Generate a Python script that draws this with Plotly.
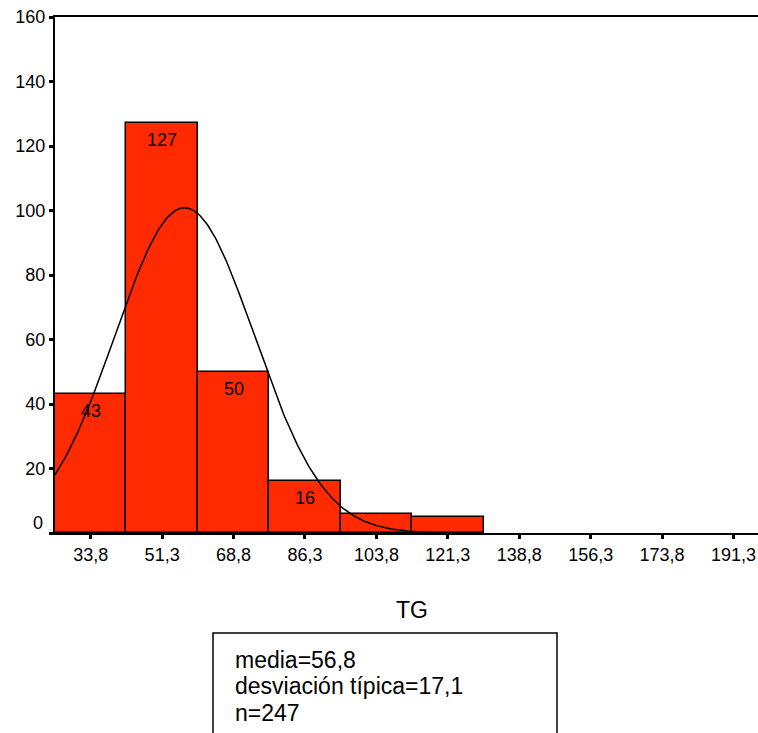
import numpy as np
import plotly.graph_objects as go

# ---- data ----
bin_centers = [33.8, 51.3, 68.8, 86.3, 103.8, 121.3]
counts = [43, 127, 50, 16, 6, 5]
labelled = [True, True, True, True, False, False]
tick_vals = [33.8, 51.3, 68.8, 86.3, 103.8, 121.3, 138.8, 156.3, 173.8, 191.3]
tick_text = ["33,8", "51,3", "68,8", "86,3", "103,8", "121,3", "138,8", "156,3", "173,8", "191,3"]
y_ticks = [0, 20, 40, 60, 80, 100, 120, 140, 160]
mean_v = 56.8
sd_v = 17.1
n_v = 247
bin_width = 17.5
var_name = "TG"
stats_lines = ["media=56,8", "desviación típica=17,1", "n=247"]

# ---- layout constants ----
W, H = 758, 733
ML, MR, MT, MB = 55, 0, 17, 200
PW = W - ML - MR
PH = H - MT - MB
FONT = "Liberation Sans, Arial, sans-serif"
BAR_COLOR = "#ff2a00"
TICK_SIZE = 18
TEXT_SIZE = 23

x_min = bin_centers[0] - bin_width / 2
x_max = 197.3


def px_x(p):
    return (p - ML) / PW


def px_y(p):
    return (MT + PH - p) / PH


# fitted normal curve from the stated mean / sd / n
xc = np.linspace(x_min, 117, 300)
yc = n_v * bin_width / (sd_v * np.sqrt(2 * np.pi)) * np.exp(-0.5 * ((xc - mean_v) / sd_v) ** 2)

fig = go.Figure()
fig.add_trace(go.Bar(
    x=bin_centers, y=counts, width=bin_width,
    marker=dict(color=BAR_COLOR, line=dict(color="black", width=1.5)),
    hoverinfo="skip", showlegend=False,
))
fig.add_trace(go.Scatter(
    x=xc, y=yc, mode="lines", line=dict(color="black", width=1.5),
    hoverinfo="skip", showlegend=False,
))

annotations = []
for xv, cv, lab in zip(bin_centers, counts, labelled):
    if lab:
        annotations.append(dict(x=xv, y=cv, xref="x", yref="y", text=str(cv),
                                showarrow=False, yanchor="middle", yshift=-17,
                                font=dict(family=FONT, size=TICK_SIZE, color="black")))
# zero label sits slightly above its tick, as in the original
annotations.append(dict(x=0, y=0, xref="paper", yref="y", text="0", showarrow=False,
                        xanchor="right", yanchor="middle", xshift=-10, yshift=10,
                        font=dict(family=FONT, size=TICK_SIZE, color="black")))
annotations.append(dict(x=px_x(412), y=px_y(610), xref="paper", yref="paper", text=var_name,
                        showarrow=False, xanchor="center", yanchor="middle",
                        font=dict(family=FONT, size=TEXT_SIZE, color="black")))
for i, line in enumerate(stats_lines):
    annotations.append(dict(x=px_x(233), y=px_y(660 + 26.5 * i), xref="paper", yref="paper",
                            text=line, showarrow=False, xanchor="left", yanchor="middle",
                            font=dict(family=FONT, size=TEXT_SIZE, color="black")))

shapes = [dict(type="rect", xref="paper", yref="paper",
               x0=px_x(213), x1=px_x(557), y0=px_y(633), y1=px_y(800),
               line=dict(color="black", width=1.5), fillcolor="rgba(0,0,0,0)", layer="above")]

fig.update_layout(
    width=W, height=H,
    margin=dict(l=ML, r=MR, t=MT, b=MB, pad=0, autoexpand=False),
    paper_bgcolor="white", plot_bgcolor="white",
    font=dict(family=FONT, size=TICK_SIZE, color="black"),
    bargap=0,
    annotations=annotations,
    shapes=shapes,
    xaxis=dict(range=[x_min, x_max], tickvals=tick_vals, ticktext=tick_text,
               automargin=False, ticklabeloverflow="allow",
               showgrid=False, zeroline=False, showline=True, linecolor="black", linewidth=2,
               mirror=True, ticks="outside", ticklen=4, tickwidth=3, tickcolor="black",
               tickfont=dict(family=FONT, size=TICK_SIZE, color="black")),
    yaxis=dict(range=[0, 160], tickvals=y_ticks,
               ticktext=["" if v == 0 else str(v) for v in y_ticks],
               automargin=False, ticklabeloverflow="allow",
               showgrid=False, zeroline=False, showline=True, linecolor="black", linewidth=2,
               ticks="outside", ticklen=4, tickwidth=3, tickcolor="black",
               tickfont=dict(family=FONT, size=TICK_SIZE, color="black")),
)

fig.write_html(
    "out.html",
    config={"displayModeBar": False},
    post_script="document.body.style.margin='0';document.body.style.overflow='hidden';",
)
